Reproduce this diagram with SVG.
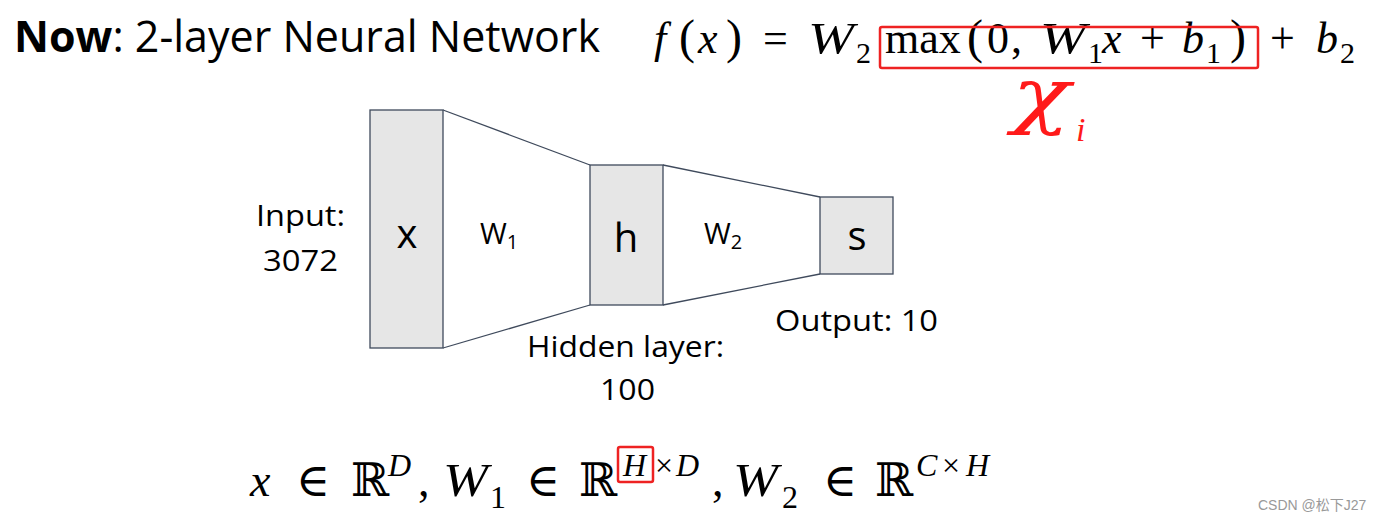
<svg xmlns="http://www.w3.org/2000/svg" width="1382" height="521" viewBox="0 0 1382 521">
<style>
.box{fill:#e6e6e6;stroke:#3f4a5c;stroke-width:1.3}
.conn{stroke:#3f4a5c;stroke-width:1.3;fill:none}
.lab{font-family:"Open Sans","Liberation Sans",sans-serif;fill:#000}
.math{font-family:"Liberation Serif","DejaVu Serif",serif;fill:#000}
.it{font-style:italic}
.bb{font-family:"DejaVu Serif",serif}
.red{fill:none;stroke:#ee2222;stroke-width:2.5}
</style>
<rect width="1382" height="521" fill="#fff"/>
<g id="title">
<text class="lab" x="14" y="52" font-size="43" textLength="586" lengthAdjust="spacingAndGlyphs"><tspan font-weight="bold">Now</tspan>: 2-layer Neural Network</text>
</g>
<g id="formula">
<text class="math" y="53" font-size="44"><tspan x="654" class="it">f</tspan><tspan x="679" font-size="48">(</tspan><tspan x="698" class="it">x</tspan><tspan x="726" font-size="48">)</tspan><tspan x="763">=</tspan><tspan x="856" y="63" font-size="30">2</tspan><tspan x="885" y="53">max</tspan><tspan x="967" font-size="48">(</tspan><tspan x="987">0</tspan><tspan x="1011">,</tspan><tspan x="1088" y="63" font-size="30">1</tspan><tspan x="1102" y="53" class="it">x</tspan><tspan x="1140">+</tspan><tspan x="1182" class="it">b</tspan><tspan x="1206" y="63" font-size="30">1</tspan><tspan x="1230" y="53" font-size="48">)</tspan><tspan x="1270">+</tspan><tspan x="1316" class="it">b</tspan><tspan x="1340" y="63" font-size="30">2</tspan></text>
<text class="math it" x="808" y="53" font-size="44" textLength="46" lengthAdjust="spacingAndGlyphs">W</text>
<text class="math it" x="1040" y="53" font-size="44" textLength="46" lengthAdjust="spacingAndGlyphs">W</text>
<rect class="red" x="880" y="27" width="378" height="41" rx="2"/>
<text x="1012" y="120" font-family="DejaVu Serif,serif" font-style="italic" font-size="72" fill="#ff1a1a" textLength="58" lengthAdjust="spacingAndGlyphs">χ</text>
<text x="1076" y="141" font-family="Liberation Serif,serif" font-style="italic" font-size="34" fill="#ff1a1a">i</text>
</g>
<g id="connectors">
<line class="conn" x1="443" y1="110" x2="590" y2="165"/>
<line class="conn" x1="443" y1="348" x2="590" y2="305"/>
<line class="conn" x1="663" y1="165" x2="820" y2="197"/>
<line class="conn" x1="663" y1="305" x2="820" y2="274"/>
</g>
<g id="node-x">
<rect class="box" x="370" y="110" width="73" height="238"/>
<text class="lab" x="407" y="248" font-size="40" text-anchor="middle">x</text>
</g>
<g id="node-h">
<rect class="box" x="590" y="165" width="73" height="140"/>
<text class="lab" x="626" y="252" font-size="40" text-anchor="middle">h</text>
</g>
<g id="node-s">
<rect class="box" x="820" y="197" width="73" height="77"/>
<text class="lab" x="857" y="250" font-size="40" text-anchor="middle">s</text>
</g>
<g id="label-w1">
<text class="lab" x="480" y="244" font-size="29">W<tspan font-size="20" dy="5">1</tspan></text>
</g>
<g id="label-w2">
<text class="lab" x="704" y="244" font-size="29">W<tspan font-size="20" dy="5">2</tspan></text>
</g>
<g id="label-input">
<text class="lab" x="256" y="226" font-size="30" textLength="89" lengthAdjust="spacingAndGlyphs">Input:</text>
<text class="lab" x="263" y="271" font-size="30" textLength="75" lengthAdjust="spacingAndGlyphs">3072</text>
</g>
<g id="label-hidden">
<text class="lab" x="527" y="357" font-size="30" textLength="197" lengthAdjust="spacingAndGlyphs">Hidden layer:</text>
<text class="lab" x="600" y="400" font-size="30" textLength="55" lengthAdjust="spacingAndGlyphs">100</text>
</g>
<g id="label-output">
<text class="lab" x="775" y="331" font-size="30" textLength="163" lengthAdjust="spacingAndGlyphs">Output: 10</text>
</g>
<g id="dims">
<text class="math" y="496" font-size="46"><tspan x="250" class="it">x</tspan><tspan x="296">∈</tspan><tspan x="351" class="bb" font-size="46">ℝ</tspan><tspan x="388" y="476" class="it" font-size="32">D</tspan><tspan x="418" y="496">,</tspan><tspan x="490" y="508" font-size="32">1</tspan><tspan x="526" y="496">∈</tspan><tspan x="579" class="bb" font-size="46">ℝ</tspan><tspan x="623" y="476" class="it" font-size="32">H</tspan><tspan x="655" font-size="32">×</tspan><tspan x="676" class="it" font-size="32">D</tspan><tspan x="712" y="496">,</tspan><tspan x="782" y="508" font-size="32">2</tspan><tspan x="823" y="496">∈</tspan><tspan x="875" class="bb" font-size="46">ℝ</tspan><tspan x="916" y="476" class="it" font-size="32">C</tspan><tspan x="942" font-size="32">×</tspan><tspan x="966" class="it" font-size="32">H</tspan></text>
<text class="math it" x="443" y="496" font-size="46" textLength="45" lengthAdjust="spacingAndGlyphs">W</text>
<text class="math it" x="733" y="496" font-size="46" textLength="45" lengthAdjust="spacingAndGlyphs">W</text>
<rect class="red" x="618" y="447" width="35" height="35" rx="2"/>
</g>
<g id="watermark">
<text x="1258" y="510" font-family="Liberation Sans,Noto Sans CJK SC,sans-serif" font-size="14" fill="#999">CSDN @松下J27</text>
</g>
</svg>
